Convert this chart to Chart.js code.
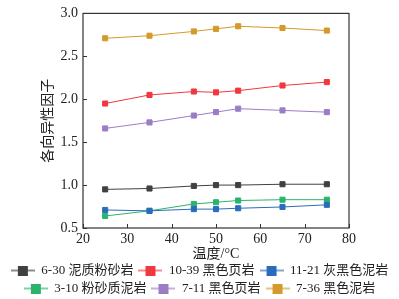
<!DOCTYPE html>
<html>
<head>
<meta charset="utf-8">
<script src="https://cdn.jsdelivr.net/npm/chart.js@4.4.1/dist/chart.umd.min.js"></script>
<style>
  html, body { margin: 0; padding: 0; background: #fff; }
  #wrap { width: 399px; height: 299px; }
</style>
</head>
<body>
<div id="wrap"><canvas id="myChart"></canvas></div>
<script>
// temperatures (x)
var temps = [25, 35, 45, 50, 55, 65, 75];

var seriesNames = ['6-30 泥质粉砂岩', '10-39 黑色页岩', '11-21 灰黑色泥岩', '3-10 粉砂质泥岩', '7-11 黑色页岩', '7-36 黑色泥岩'];

var s630 = [0.95, 0.96, 0.99, 1.00, 1.00, 1.01, 1.01];
var s1039 = [1.95, 2.05, 2.09, 2.08, 2.10, 2.16, 2.20];
var s1121 = [0.71, 0.70, 0.72, 0.72, 0.73, 0.745, 0.77];
var s310 = [0.64, 0.70, 0.78, 0.80, 0.82, 0.83, 0.83];
var s711 = [1.66, 1.73, 1.81, 1.85, 1.89, 1.87, 1.85];
var s736 = [2.71, 2.74, 2.79, 2.82, 2.85, 2.83, 2.80];

var xTicks = [20, 30, 40, 50, 60, 70, 80];
var yTicks = [0.5, 1.0, 1.5, 2.0, 2.5, 3.0];

var colors = ['#404040', '#f0393f', '#2a6cbc', '#2bb36b', '#9b7dc4', '#d49a2a'];
var allSeries = [s630, s1039, s1121, s310, s711, s736];

function legendIcon(color) {
    var c = document.createElement('canvas');
    c.width = 24; c.height = 10;
    var g = c.getContext('2d');
    g.strokeStyle = color;
    g.lineWidth = 1.2;
    g.beginPath(); g.moveTo(0, 5); g.lineTo(24, 5); g.stroke();
    g.fillStyle = color;
    g.fillRect(7, 0, 10, 10);
    return c;
}

var datasets = allSeries.map(function (vals, i) {
    return {
        label: seriesNames[i],
        data: vals.map(function (v, j) { return { x: temps[j], y: v }; }),
        borderColor: colors[i],
        backgroundColor: colors[i],
        borderWidth: 1,
        pointStyle: 'rect',
        pointRadius: 3.6,
        pointHoverRadius: 3.6,
        tension: 0
    };
});

// box around plot + inward ticks
var frame = {
    id: 'frame',
    afterDraw: function (chart) {
        var ctx = chart.ctx, a = chart.chartArea;
        var xs = chart.scales.x, ys = chart.scales.y;
        ctx.save();
        ctx.strokeStyle = '#333';
        ctx.lineWidth = 1.2;
        ctx.strokeRect(a.left, a.top, a.right - a.left, a.bottom - a.top);
        ctx.lineWidth = 1;
        ctx.beginPath();
        xTicks.forEach(function (t) {
            var px = Math.round(xs.getPixelForValue(t)) + 0.5;
            ctx.moveTo(px, a.bottom); ctx.lineTo(px, a.bottom - 4);
        });
        yTicks.forEach(function (t) {
            var py = Math.round(ys.getPixelForValue(t)) + 0.5;
            ctx.moveTo(a.left, py); ctx.lineTo(a.left + 4, py);
        });
        ctx.stroke();
        ctx.restore();
    }
};

var serif = '"Liberation Serif", "Noto Sans CJK SC", serif';

new Chart(document.getElementById('myChart'), {
    type: 'line',
    data: { datasets: datasets },
    plugins: [frame],
    options: {
        responsive: true,
        maintainAspectRatio: false,
        animation: false,
        layout: { padding: { left: 0, right: 0, top: 4, bottom: -6 } },
        scales: {
            x: {
                type: 'linear',
                min: 20, max: 80,
                afterBuildTicks: function (s) { s.ticks = xTicks.map(function (v) { return { value: v }; }); },
                afterFit: function (s) { s.height = 31; },
                grid: { display: false, drawTicks: false },
                border: { display: false },
                ticks: { color: '#222', font: { family: serif, size: 14 }, padding: 3 },
                title: { display: true, text: '温度/°C', color: '#222', font: { family: serif, size: 14 }, padding: { top: 0, bottom: -4 } }
            },
            y: {
                min: 0.5, max: 3.0,
                afterBuildTicks: function (s) { s.ticks = yTicks.map(function (v) { return { value: v }; }); },
                afterFit: function (s) { s.width = 83; },
                grid: { display: false, drawTicks: false },
                border: { display: false },
                ticks: { color: '#222', font: { family: serif, size: 14 }, padding: 5,
                    callback: function (v) { return v.toFixed(1); } },
                title: { display: true, text: '各向异性因子', color: '#222', font: { family: serif, size: 14 }, padding: { top: 40, bottom: 0 } }
            },
            // empty right-hand spacer so the plot ends where the reference does
            yr: {
                position: 'right',
                display: true,
                afterFit: function (s) { s.width = 50; },
                grid: { display: false, drawTicks: false },
                border: { display: false },
                ticks: { display: false }
            }
        },
        plugins: {
            tooltip: { enabled: false },
            legend: {
                position: 'bottom',
                labels: {
                    usePointStyle: true,
                    pointStyleWidth: 24,
                    padding: 5,
                    color: '#222',
                    font: { family: serif, size: 13 },
                    generateLabels: function (chart) {
                        return chart.data.datasets.map(function (d, i) {
                            return { text: d.label, pointStyle: legendIcon(colors[i]), fillStyle: colors[i], strokeStyle: colors[i], lineWidth: 0, datasetIndex: i, fontColor: '#222' };
                        });
                    }
                }
            }
        }
    }
});
</script>
</body>
</html>
